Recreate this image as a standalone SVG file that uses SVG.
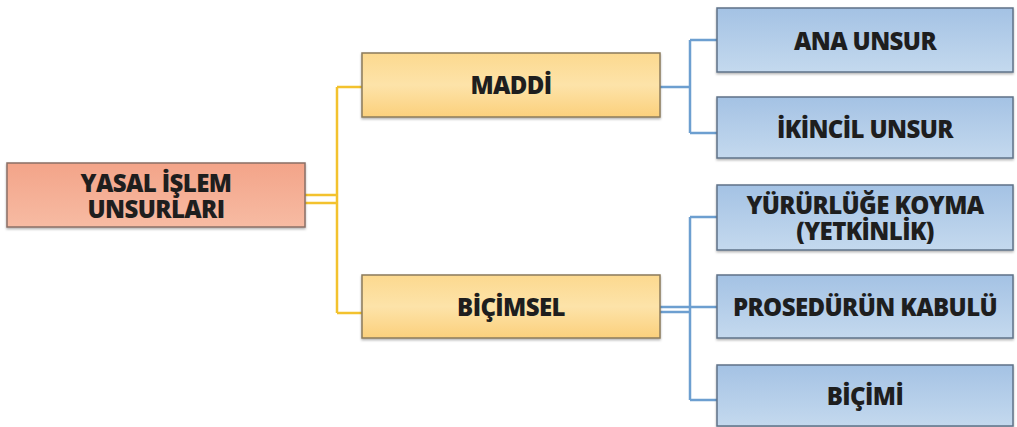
<svg xmlns="http://www.w3.org/2000/svg" width="1017" height="427" viewBox="0 0 1017 427">
<defs>
<linearGradient id="gRoot" x1="0" y1="0" x2="0" y2="1"><stop offset="0" stop-color="#f3a489"/><stop offset="1" stop-color="#f7bba3"/></linearGradient>
<linearGradient id="gY" x1="0" y1="0" x2="0" y2="1"><stop offset="0" stop-color="#fcd98f"/><stop offset="0.5" stop-color="#fde3a9"/><stop offset="1" stop-color="#fbd07c"/></linearGradient>
<linearGradient id="gB" x1="0" y1="0" x2="0" y2="1"><stop offset="0" stop-color="#a4c2e4"/><stop offset="1" stop-color="#c4d9ee"/></linearGradient>
<filter id="sh" x="-5%" y="-10%" width="110%" height="130%"><feDropShadow dx="0" dy="1.5" stdDeviation="1.2" flood-color="#000" flood-opacity="0.3"/></filter>
</defs>
<style>
.t{font-family:"Open Sans","Noto Sans","DejaVu Sans",sans-serif;font-weight:800;font-size:24px;fill:#1e1e1e;text-anchor:middle;letter-spacing:-0.6px}
.root{fill:url(#gRoot);stroke:#8a6f66;stroke-width:1.5}
.y{fill:url(#gY);stroke:#8b7b5c;stroke-width:1.5}
.b{fill:url(#gB);stroke:#5f7288;stroke-width:1.5}
.cy{stroke:#f3c22e;stroke-width:2.5;fill:none}
.cb{stroke:#6d9fd0;stroke-width:2.5;fill:none}
</style>
<rect width="1017" height="427" fill="#ffffff"/>
<g id="connectors">
<path class="cy" d="M305 195 H337 M305 203 H337 M337 87 V313 M337 87 H362 M337 313 H362"/>
<path class="cb" d="M660 87 H690 M690 40 V133 M690 40 H717 M690 133 H717"/>
<path class="cb" d="M660 307 H717 M660 312 H690 M690 217 V400 M690 217 H717 M690 400 H717"/>
</g>
<g id="root"><rect class="root" filter="url(#sh)" x="7" y="163" width="298" height="64"/>
<text class="t" x="156" y="192">YASAL İŞLEM</text>
<text class="t" x="156" y="218">UNSURLARI</text></g>
<g id="maddi"><rect class="y" filter="url(#sh)" x="362" y="53" width="298" height="64"/>
<text class="t" x="511" y="94">MADDİ</text></g>
<g id="bicimsel"><rect class="y" filter="url(#sh)" x="362" y="275" width="298" height="63"/>
<text class="t" x="511" y="316">BİÇİMSEL</text></g>
<g id="ana"><rect class="b" filter="url(#sh)" x="717" y="8" width="296" height="64"/>
<text class="t" x="865" y="50">ANA UNSUR</text></g>
<g id="ikincil"><rect class="b" filter="url(#sh)" x="717" y="97" width="296" height="61"/>
<text class="t" x="865" y="138">İKİNCİL UNSUR</text></g>
<g id="yururluge"><rect class="b" filter="url(#sh)" x="717" y="185" width="296" height="65"/>
<text class="t" x="865" y="214">YÜRÜRLÜĞE KOYMA</text>
<text class="t" x="865" y="240">(YETKİNLİK)</text></g>
<g id="prosedur"><rect class="b" filter="url(#sh)" x="717" y="275" width="296" height="63"/>
<text class="t" x="865" y="316">PROSEDÜRÜN KABULÜ</text></g>
<g id="bicimi"><rect class="b" filter="url(#sh)" x="717" y="365" width="296" height="61"/>
<text class="t" x="865" y="405">BİÇİMİ</text></g>
</svg>
